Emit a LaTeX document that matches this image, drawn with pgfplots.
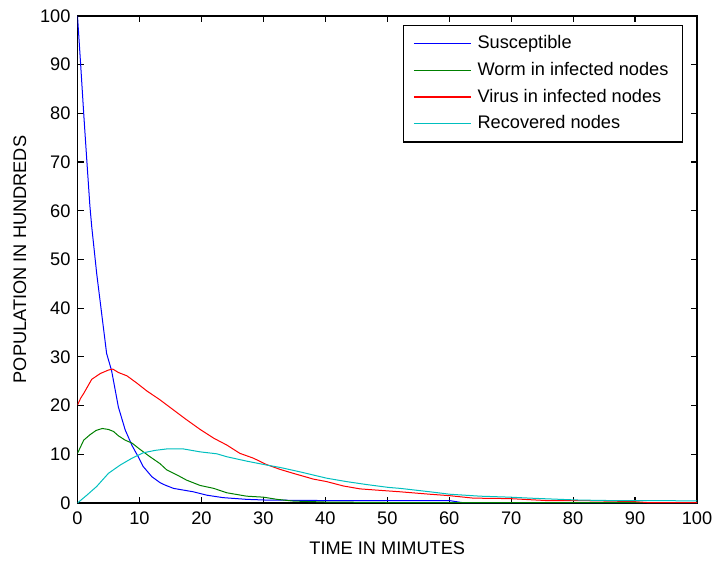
\documentclass[border=0pt]{standalone}
\usepackage{fontspec}
\setmainfont{Liberation Sans}
\usepackage{pgfplots}
\pgfplotsset{compat=1.18}
\usetikzlibrary{calc}
\definecolor{mblue}{rgb}{0,0,1}
\definecolor{mgreen}{rgb}{0,0.5,0}
\definecolor{mred}{rgb}{1,0,0}
\definecolor{mcyan}{rgb}{0,0.75,0.75}

\begin{document}
\begin{tikzpicture}
\begin{axis}[scale only axis,width=309.75pt,height=243.5pt,
  font=\fontsize{9.1}{11}\selectfont,
  /pgf/number format/assume math mode=true,
  xmin=0,xmax=100,ymin=0,ymax=100,
  xtick={0,10,...,100},ytick={0,10,...,100},
  tick align=inside,major tick length=3pt,
  axis line style={line width=0.6pt},
  every tick/.style={black,line width=0.6pt},
  xticklabel style={yshift=-1pt},
  xlabel={TIME IN MIMUTES},
  ylabel={POPULATION IN HUNDREDS},
  xlabel style={at={(axis description cs:0.5,0)},anchor=center,yshift=-22.5pt},
  ylabel style={at={(axis description cs:-0.093,0.5)},anchor=center},
  legend cell align=left,
  legend style={at={(1,1)},anchor=north east,xshift=-7pt,yshift=-4.5pt,
    draw=black,line width=0.6pt,inner xsep=5pt,inner ysep=2.5pt,
    row sep=0pt,column sep=1pt,font=\fontsize{9.1}{11}\selectfont,
    nodes={inner ysep=2.6pt}},
  legend image code/.code={\draw[#1,line width=0.6pt] (0pt,0pt) -- (28.5pt,0pt);},
  every axis plot/.append style={line width=0.5pt}]
\coordinate (ll) at (rel axis cs:0,0);
\coordinate (ur) at (rel axis cs:1,1);
\addplot[mblue] coordinates {
 (0,100)(0.5,90.2)(1,80)(1.5,70.4)(2,61)(2.3,56.7)(3.1,47.1)(3.9,38.9)(4.7,30.7)
 (5.5,27.2)(6.6,19.7)(7.7,15)(8.8,11.8)(9.8,9.5)(10.6,7.5)(12,5.4)(13.3,4.2)
 (14.1,3.7)(15.5,3)(18.7,2.3)(20.9,1.6)(23.5,1.1)(27.3,0.75)(30.5,0.6)(40,0.5)
 (50,0.5)(60,0.5)(62,0.1)(100,0.1)};
\addlegendentry{Susceptible}
\addplot[mgreen] coordinates {
 (0,10.2)(1,12.9)(2,14)(3,14.9)(4,15.3)(5,15.1)(5.8,14.7)(6.6,13.8)(7.7,12.9)
 (8.8,12.3)(10.1,11)(11.7,9.5)(13.3,8.1)(14.4,6.8)(16,5.8)(17.6,4.7)(19.8,3.6)
 (22,3)(24.1,2.1)(27.3,1.4)(30,1.2)(32.2,0.75)(34.8,0.4)(40,0.2)(50,0.1)(100,0.1)};
\addlegendentry{Worm in infected nodes}
\addplot[mred] coordinates {
 (0,20.1)(0.5,21.5)(1,22.5)(2.3,25.4)(3.7,26.6)(5,27.3)(5.7,27.5)(6.6,26.8)
 (8,26.1)(9.6,24.6)(11.2,23)(13.3,21.2)(15.5,19.1)(17.6,17.1)(19.8,15.1)
 (22,13.3)(24.1,11.9)(26.2,10.2)(28.4,9.2)(30.5,7.9)(32.7,6.9)(34.8,6.1)
 (38.1,4.9)(40.2,4.4)(42.9,3.5)(45.6,2.9)(48.8,2.6)(52.1,2.3)(56.9,1.8)
 (60.1,1.5)(63.9,1.0)(69.8,0.9)(75.7,0.5)(81.1,0.5)(89.7,0.3)(91.9,0.1)(100,0.1)};
\addlegendentry{Virus in infected nodes}
\addplot[mcyan] coordinates {
 (0,0)(1.5,1.6)(3.1,3.4)(5,6.1)(6.9,7.8)(8.8,9.2)(10.6,10.3)(12.5,10.8)
 (14.4,11.1)(17.1,11.1)(19.8,10.5)(22.5,10.1)(24.1,9.5)(27.3,8.6)(30.5,7.8)
 (32.7,7.3)(35.9,6.4)(40.2,5.1)(43.4,4.4)(46.6,3.8)(50.2,3.2)(52.1,3.0)
 (56.9,2.3)(60.1,1.8)(65,1.4)(69.8,1.2)(73,1.0)(77.9,0.75)(81.1,0.6)(86,0.5)(100,0.45)};
\addlegendentry{Recovered nodes}
\end{axis}
\pgfresetboundingbox
\path[use as bounding box] ($(ll)+(-38.75pt,-29pt)$) rectangle ($(ur)+(9pt,8pt)$);
\end{tikzpicture}
\end{document}
